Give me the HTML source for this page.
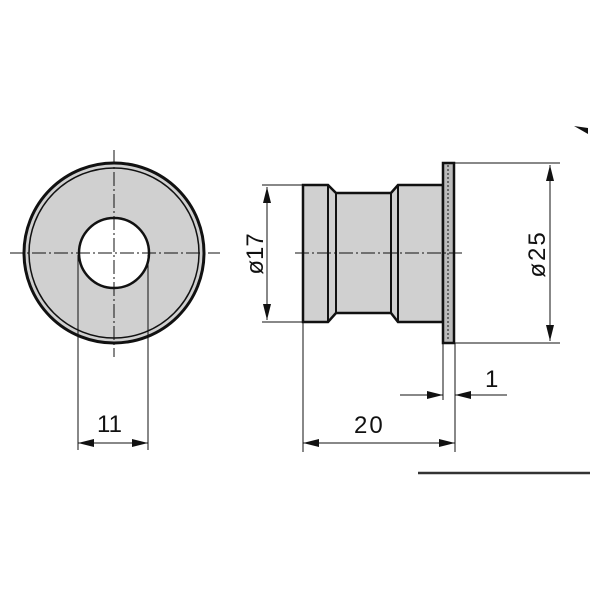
<!DOCTYPE html>
<html><head><style>body{margin:0;background:#fff}svg{display:block}</style></head><body>
<svg width="600" height="600" viewBox="0 0 600 600" xmlns="http://www.w3.org/2000/svg" font-family="Liberation Sans, sans-serif">
<defs>
<marker id="b" viewBox="0 0 16 8" refX="16" refY="4" markerWidth="16" markerHeight="8" orient="auto-start-reverse" markerUnits="userSpaceOnUse"><path d="M0,0L16,4L0,8z" fill="#111"/></marker>
</defs>
<g stroke="#111" fill="none">
<circle cx="114" cy="253" r="90" fill="#d0d0d0" stroke-width="3"/>
<circle cx="114" cy="253" r="85" stroke-width="1.5"/>
<circle cx="114" cy="253" r="35" fill="#fff" stroke-width="2.5"/>
<path d="M10 253H220M114 150V357" stroke-width="1" stroke-dasharray="14 3 2 3"/>
<path d="M78 255V450M148 255V450" stroke-width="1"/>
<path d="M78 443H148" stroke-width="1" marker-start="url(#b)" marker-end="url(#b)"/>
<path d="M303 185H328L336 193H391L398 185H443V322H398L391 313H336L328 322H303Z" fill="#d0d0d0" stroke-width="2.5"/>
<path d="M328 185V322M336 193V313M391 193V313M398 185V322" stroke-width="2"/>
<rect x="443" y="163" width="11" height="180" fill="#bbb" stroke-width="2.5"/>
<path d="M448 165V341" stroke-width="1" stroke-dasharray="2 2"/>
<path d="M295 253H462" stroke-width="1" stroke-dasharray="14 3 2 3"/>
<path d="M262 185H303M262 322H303" stroke-width="1"/>
<path d="M267 187V320" stroke-width="1" marker-start="url(#b)" marker-end="url(#b)"/>
<path d="M443 163H560M455 343H560" stroke-width="1"/>
<path d="M550 165V341" stroke-width="1" marker-start="url(#b)" marker-end="url(#b)"/>
<path d="M303 322V452M455 343V452M443 343V400" stroke-width="1"/>
<path d="M303 443H455" stroke-width="1" marker-start="url(#b)" marker-end="url(#b)"/>
<path d="M400 395H443M455 395H507" stroke-width="1"/>
<path d="M425 395H443" stroke-width="1" marker-end="url(#b)"/>
<path d="M475 395H455" stroke-width="1" marker-end="url(#b)"/>
<path d="M418 473H590" stroke-width="2.5" stroke="#333"/>
</g>
<path d="M574 126L588 128L588 134Z" fill="#111"/>
<g fill="#111" font-size="24">
<text x="97" y="432">11</text>
<text x="354" y="433" letter-spacing="2">20</text>
<text x="485" y="387">1</text>
<text transform="translate(263,254) rotate(-90)" text-anchor="middle">ø17</text>
<text transform="translate(545,254) rotate(-90)" text-anchor="middle" letter-spacing="2">ø25</text>
</g>
</svg>
</body></html>
